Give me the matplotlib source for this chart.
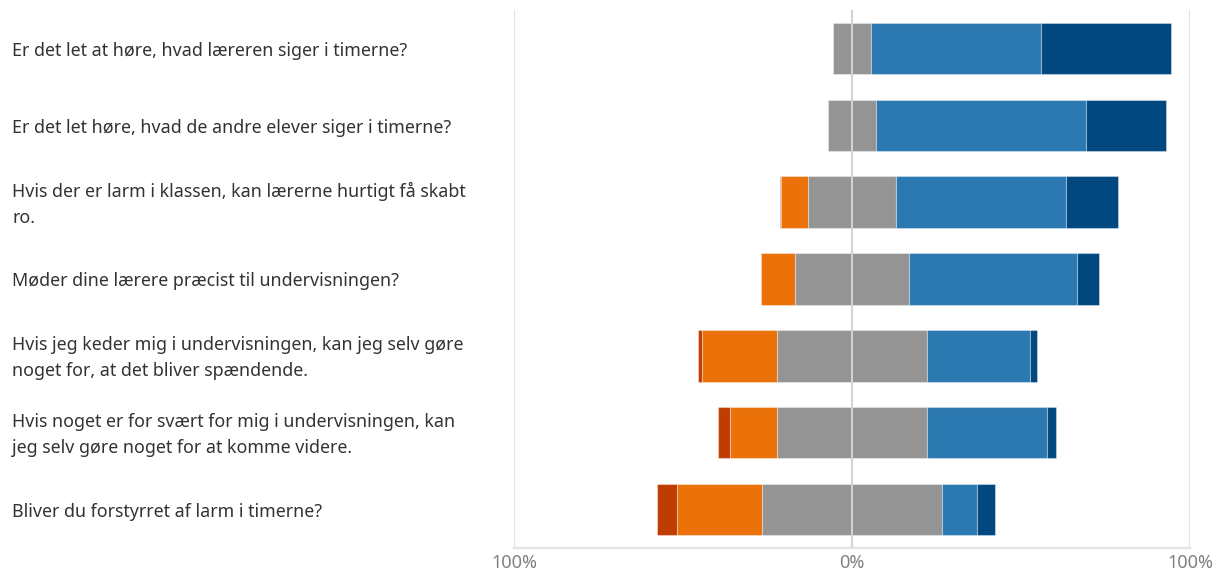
import matplotlib
matplotlib.use("Agg")
import matplotlib.pyplot as plt
import matplotlib.transforms as mtransforms
import numpy as np

categories = [
    "Er det let at høre, hvad læreren siger i timerne?",
    "Er det let høre, hvad de andre elever siger i timerne?",
    "Hvis der er larm i klassen, kan lærerne hurtigt få skabt\nro.",
    "Møder dine lærere præcist til undervisningen?",
    "Hvis jeg keder mig i undervisningen, kan jeg selv gøre\nnoget for, at det bliver spændende.",
    "Hvis noget er for svært for mig i undervisningen, kan\njeg selv gøre noget for at komme videre.",
    "Bliver du forstyrret af larm i timerne?",
]
strongly_disagree = [0.0, 0.0, 0.4, 0.0, 1.0, 3.7, 5.8]
disagree = [0.0, 0.0, 7.9, 10.1, 22.2, 13.7, 25.3]
neutral = [11.0, 14.4, 26.0, 33.9, 44.6, 44.5, 53.2]
agree = [50.4, 62.1, 50.4, 49.5, 30.3, 35.3, 10.4]
strongly_agree = [38.6, 23.5, 15.2, 6.5, 2.1, 2.8, 5.4]
tick_values = [-100, 0, 100]
tick_labels = ["100%", "0%", "100%"]

colors = {
    "sd": "#C03D02",
    "d": "#EB7109",
    "n": "#949494",
    "a": "#2B79B0",
    "sa": "#00487F",
}

fig = plt.figure(figsize=(12.25, 5.77), dpi=100)
ax = fig.add_axes([514 / 1225, 29 / 577, 676 / 1225, 538 / 577])

y = np.arange(len(categories))
sd = np.array(strongly_disagree)
d = np.array(disagree)
n = np.array(neutral)
a = np.array(agree)
sa = np.array(strongly_agree)

start = -(sd + d + n / 2)
h = 0.67
edge = dict(edgecolor=(1, 1, 1, 0.35), linewidth=0.8, zorder=3)
left = start.copy()
for vals, key in [(sd, "sd"), (d, "d"), (n, "n"), (a, "a"), (sa, "sa")]:
    ax.barh(y, vals, left=left, height=h, color=colors[key], **edge)
    left = left + vals

ax.set_xlim(-100, 100)
ax.set_ylim(len(categories) - 0.5, -0.5)

for v in tick_values:
    ax.axvline(v, color="#e4e4e4", lw=1.6, zorder=1)
ax.axvline(0, color="#d4d4d4", lw=1.4, zorder=4)
ax.axhline(len(categories) - 0.5, xmin=0, xmax=1, color="#e4e4e4", lw=1.6, zorder=1, clip_on=False)

for s in ax.spines.values():
    s.set_visible(False)
ax.set_yticks([])
ax.set_xticks(tick_values)
ax.set_xticklabels(tick_labels, color="#808080", fontsize=13, family="Noto Sans")
ax.tick_params(axis="x", length=0, pad=4)

trans = mtransforms.blended_transform_factory(fig.transFigure, ax.transData)
for yi, label in zip(y, categories):
    ax.text(12 / 1225, yi + 0.03, label, ha="left", va="center", fontsize=12.85,
            family="Noto Sans", color="#333333", linespacing=1.6,
            transform=trans, clip_on=False)

fig.savefig("out.png", dpi=100, facecolor="white")
